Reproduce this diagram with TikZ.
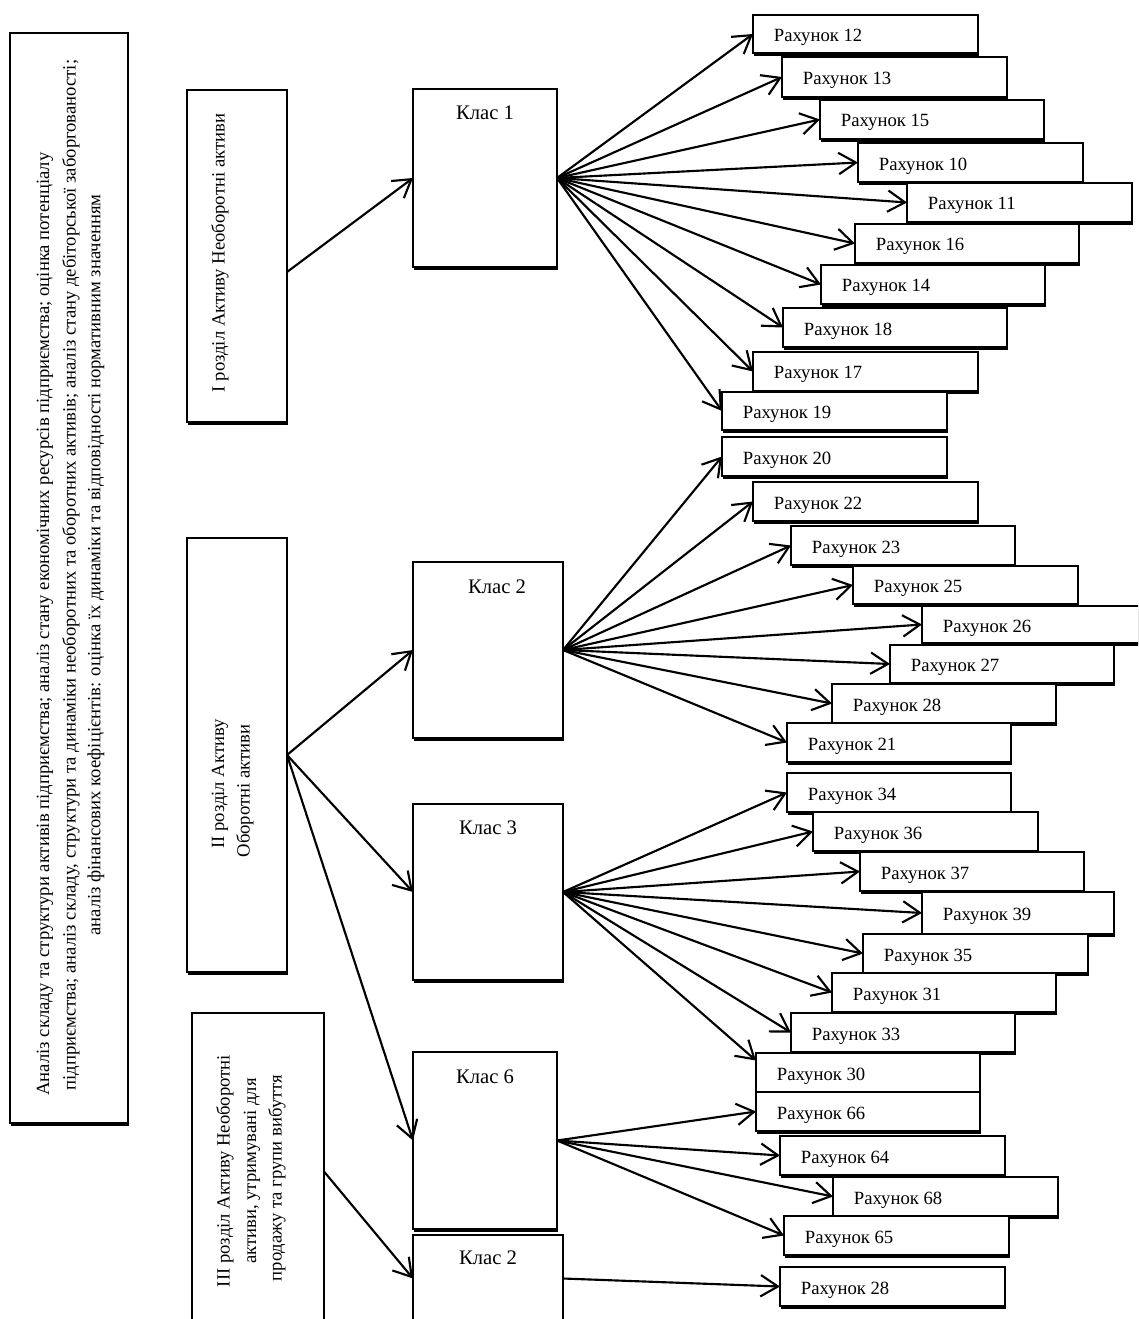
\documentclass[tikz,border=0pt]{standalone}
\usepackage{fontspec}
\setmainfont{Liberation Serif}
\usetikzlibrary{arrows.meta,shadows,calc}
\newcommand\mkbox[6]{\node[#1, minimum width={(#5-#3)*0.75pt}, minimum height={(#6-#4)*0.75pt}] (#2) at ({(#3+#5)/2},{(#4+#6)/2}) {};}
\newcommand\acc[6]{\node[box,shd,minimum width={(#4-#2)*0.75pt},minimum height={(#5-#3)*0.75pt}] (#1) at ({(#2+#4)/2},{(#3+#5)/2}) {};
\node[txt, anchor=west] (#1t) at ([xshift=15.5pt,yshift=-2.5pt]#1.west) {#6};}
\begin{document}
\begin{tikzpicture}[x=0.75pt,y=-0.75pt,
  box/.style={draw, line width=1.4pt, fill=white, inner sep=0pt, outer sep=0pt},
  shd/.style={drop shadow={shadow xshift=1.1pt, shadow yshift=-2.6pt, opacity=1, fill=black}},
  txt/.style={font=\fontsize{14}{16}\selectfont, inner sep=0pt},
  ktxt/.style={font=\fontsize{15.5}{18}\selectfont, inner sep=0pt},
  rtxt/.style={txt, rotate=90},
  arr/.style={line width=1.6pt, -{Straight Barb[length=13pt,width=16pt,line width=1.6pt]}},
  ln/.style={line width=1.6pt}]
\useasboundingbox (0,0) rectangle (1138,1319);
\clip (0,0) rectangle (1138,1319);
\fill[white] (0,0) rectangle (1138,1319);

% left analysis box
\mkbox{box,shd}{main}{10}{33}{128}{1123}
\node[rtxt] (m1) at (45,624) {Аналіз складу та структури активів підприємства; аналіз стану економічних ресурсів підприємства; оцінка потенціалу};
\node[rtxt] (m2) at (71,575) {підприємства; аналіз складу, структури та динаміки необоротних та оборотних активів; аналіз стану дебіторської заборгованості;};
\node[rtxt] (m3) at (96,565) {аналіз фінансових коефіцієнтів: оцінка їх динаміки та відповідності нормативним значенням};

% section boxes
\mkbox{box,shd}{b1}{187}{90}{287}{422}
\node[rtxt] (b1t) at (220,253) {І розділ Активу Необоротні активи};
\mkbox{box,shd}{b2}{187}{538}{287}{972}
\node[rtxt] (b2a) at (220,784) {ІІ розділ Активу};
\node[rtxt] (b2b) at (245,791) {Оборотні активи};
\mkbox{box}{b3}{192}{1013}{324}{1330}
\node[rtxt] (b3a) at (225,1171) {ІІІ розділ Активу Необоротні};
\node[rtxt] (b3b) at (252,1171) {активи, утримувані для};
\node[rtxt] (b3c) at (277,1178) {продажу та групи вибуття};

% class boxes
\mkbox{box,shd}{k1}{413}{89}{557}{267}
\node[ktxt] (k1t) at (485,113) {Клас 1};
\mkbox{box,shd}{k2}{413}{562}{563}{738}
\node[ktxt] (k2t) at (497,587) {Клас 2};
\mkbox{box,shd}{k3}{413}{804}{563}{980}
\node[ktxt] (k3t) at (488,828) {Клас 3};
\mkbox{box,shd}{k6}{413}{1052}{557}{1229}
\node[ktxt] (k6t) at (485,1077) {Клас 6};
\mkbox{box}{k2b}{413}{1235}{563}{1322}
\node[ktxt] (k2bt) at (488,1258) {Клас 2};

% account boxes
\acc{r12}{753}{15}{978}{53}{Рахунок 12}
\acc{r13}{782}{57}{1007}{97}{Рахунок 13}
\acc{r15}{820}{100}{1044}{139}{Рахунок 15}
\acc{r10}{858}{143}{1083}{182}{Рахунок 10}
\acc{r11}{907}{183}{1132}{222}{Рахунок 11}
\acc{r16}{855}{224}{1079}{263}{Рахунок 16}
\acc{r14}{821}{265}{1045}{304}{Рахунок 14}
\acc{r18}{783}{308}{1007}{347}{Рахунок 18}
\acc{r17}{753}{352}{978}{391}{Рахунок 17}
\acc{r19}{722}{392}{947}{430}{Рахунок 19}
\acc{r20}{722}{437}{947}{476}{Рахунок 20}
\acc{r22}{753}{482}{978}{521}{Рахунок 22}
\acc{r23}{791}{526}{1015}{565}{Рахунок 23}
\acc{r25}{853}{566}{1078}{604}{Рахунок 25}
\acc{r26}{922}{606}{1147}{643}{Рахунок 26}
\acc{r27}{890}{645}{1114}{683}{Рахунок 27}
\acc{r28}{832}{684}{1056}{723}{Рахунок 28}
\acc{r21}{787}{723}{1011}{762}{Рахунок 21}
\acc{r34}{787}{773}{1011}{812}{Рахунок 34}
\acc{r36}{813}{812}{1038}{851}{Рахунок 36}
\acc{r37}{860}{852}{1084}{891}{Рахунок 37}
\acc{r39}{922}{892}{1114}{934}{Рахунок 39}
\acc{r35}{863}{934}{1088}{973}{Рахунок 35}
\acc{r31}{832}{973}{1056}{1012}{Рахунок 31}
\acc{r33}{791}{1013}{1015}{1052}{Рахунок 33}
\acc{r30}{756}{1053}{980}{1092}{Рахунок 30}
\acc{r66}{756}{1092}{980}{1131}{Рахунок 66}
\acc{r64}{780}{1136}{1005}{1175}{Рахунок 64}
\acc{r68}{833}{1177}{1058}{1216}{Рахунок 68}
\acc{r65}{784}{1216}{1009}{1255}{Рахунок 65}
\acc{r28b}{780}{1267}{1005}{1306}{Рахунок 28}

% connectors from sections
\coordinate (b1o) at ([yshift=-12pt]b1.east);
\draw[arr] (b1o) -- (k1.west);
\draw[arr] (b2.east) -- (k2.west);
\draw[arr] (b2.east) -- (k3.west);
\draw[arr] (b2.east) -- (k6.west);
\draw[arr] (b3.east) -- (k2b.west);

% class 1 fan
\foreach \r in {r12,r13,r15,r10,r11,r16,r14,r18,r17,r19}
  \draw[arr] (k1.east) -- (\r.west);
% class 2 fan
\foreach \r in {r20,r22,r23,r25,r26,r27,r28,r21}
  \draw[arr] (k2.east) -- (\r.west);
% class 3 fan
\foreach \r in {r34,r36,r37,r39,r35,r31,r33}
  \draw[arr] (k3.east) -- (\r.west);
\draw[arr] (k3.east) -- ([yshift=9pt]r30.west);
% class 6 fan
\foreach \r in {r66,r64,r68,r65}
  \draw[arr] (k6.east) -- (\r.west);
% class 2 (bottom)
\draw[arr] (k2b.east) -- (r28b.west);
\end{tikzpicture}
\end{document}
